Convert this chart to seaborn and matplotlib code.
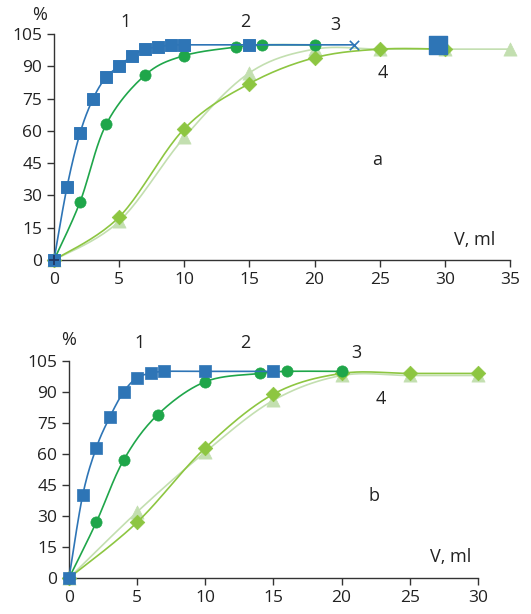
import numpy as np
import pandas as pd
import matplotlib
matplotlib.use("Agg")
import matplotlib.pyplot as plt
import seaborn as sns

# ---- data ----
# panel a
a1_x = [0, 1, 2, 3, 4, 5, 6, 7, 8, 9, 10, 15]
a1_y = [0, 34, 59, 75, 85, 90, 95, 98, 99, 100, 100, 100]
a1_end_x = [23]
a1_end_y = [100]
a_stray_x = [29.5]
a_stray_y = [100]
a2_x = [0, 2, 4, 7, 10, 14, 16, 20]
a2_y = [0, 27, 63, 86, 95, 99, 100, 100]
a3_x = [0, 5, 10, 15, 20, 25, 30, 35]
a3_y = [0, 18, 57, 87, 98, 98, 98, 98]
a4_x = [0, 5, 10, 15, 20, 25, 30]
a4_y = [0, 20, 61, 82, 94, 98, 98]

# panel b
b1_x = [0, 1, 2, 3, 4, 5, 6, 7, 10, 15]
b1_y = [0, 40, 63, 78, 90, 97, 99, 100, 100, 100]
b2_x = [0, 2, 4, 6.5, 10, 14, 16, 20]
b2_y = [0, 27, 57, 79, 95, 99, 100, 100]
b3_x = [0, 5, 10, 15, 20, 25, 30]
b3_y = [0, 32, 61, 86, 98, 98, 98]
b4_x = [0, 5, 10, 15, 20, 25, 30]
b4_y = [0, 27, 63, 89, 99, 99, 99]

y_ticks = [0, 15, 30, 45, 60, 75, 90, 105]

BLUE = "#2E75B6"
GREEN = "#1FA64A"
LIME = "#8DC641"
PALE = "#C3DFB0"

sns.set_style("white")
plt.rcParams["font.family"] = ["Open Sans", "DejaVu Sans"]


def smooth(x, y, n=24):
    # Excel-style smoothed line (Catmull-Rom through the points)
    p = np.column_stack([x, y]).astype(float)
    pts = np.vstack([p[0], p, p[-1]])
    out = []
    t = np.linspace(0, 1, n)[:, None]
    for i in range(1, len(pts) - 2):
        p0, p1, p2, p3 = pts[i - 1], pts[i], pts[i + 1], pts[i + 2]
        c1 = p1 + (p2 - p0) / 6
        c2 = p2 - (p3 - p1) / 6
        seg = ((1 - t) ** 3) * p1 + 3 * ((1 - t) ** 2) * t * c1 + 3 * (1 - t) * t ** 2 * c2 + t ** 3 * p2
        out.append(seg)
    s = np.vstack(out)
    return pd.DataFrame({"x": s[:, 0], "y": s[:, 1]})


def series(ax, x, y, color, marker, ms, lw=1.2, z=2):
    d = smooth(x, y)
    sns.lineplot(data=d, x="x", y="y", sort=False, estimator=None, color=color,
                 linewidth=lw, ax=ax, zorder=z)
    if marker is not None:
        sns.scatterplot(x=x, y=y, marker=marker, s=ms, color=color, edgecolor=color,
                        linewidth=0.5, ax=ax, zorder=z + 0.5, clip_on=False)


def style_axes(ax, xmax, xstep):
    ax.set_xlim(0, xmax)
    ax.set_ylim(0, 105)
    ax.set_xticks(np.arange(0, xmax + 1, xstep))
    ax.set_yticks(y_ticks)
    for s in ["top", "right"]:
        ax.spines[s].set_visible(False)
    for s in ["left", "bottom"]:
        ax.spines[s].set_color("#333333")
        ax.spines[s].set_linewidth(1.0)
    ax.tick_params(axis="both", direction="out", length=5, width=1.0, color="#333333",
                   labelsize=12.5, labelcolor="#222222", bottom=True, left=True, pad=3.5)
    ax.set_xlabel("")
    ax.set_ylabel("")


fig = plt.figure(figsize=(5.31, 6.14), dpi=100)

# ---- panel a ----
ax1 = fig.add_axes([0.1017, 0.5765, 0.8588, 0.368])
series(ax1, a3_x, a3_y, PALE, "^", 90, z=2)
series(ax1, a4_x, a4_y, LIME, "D", 55, z=3)
series(ax1, a2_x, a2_y, GREEN, "o", 65, z=4)
series(ax1, a1_x + a1_end_x, a1_y + a1_end_y, BLUE, None, 0, z=5)
sns.scatterplot(x=a1_x, y=a1_y, marker="s", s=70, color=BLUE, edgecolor=BLUE,
                ax=ax1, zorder=6, clip_on=False)
sns.scatterplot(x=a1_end_x, y=a1_end_y, marker="x", s=45, color=BLUE,
                linewidth=1.2, ax=ax1, zorder=6)
sns.scatterplot(x=a_stray_x, y=a_stray_y, marker="s", s=160, color=BLUE,
                edgecolor=BLUE, ax=ax1, zorder=6)
sns.scatterplot(x=[0], y=[0], marker="+", s=50, color="#1F3864",
                linewidth=1.3, ax=ax1, zorder=7, clip_on=False)
style_axes(ax1, 35, 5)

tk = dict(fontsize=13, color="#222222", ha="center", va="center")
ax1.text(-1.07, 113.8, "%", clip_on=False, **tk)
ax1.text(5.5, 110.6, "1", clip_on=False, **tk)
ax1.text(14.7, 110.6, "2", clip_on=False, **tk)
ax1.text(21.6, 109.2, "3", clip_on=False, **tk)
ax1.text(25.2, 86.9, "4", **tk)
ax1.text(24.8, 46.5, "a", **tk)
ax1.text(32.3, 9.3, "V, ml", **tk)

# ---- panel b ----
ax2 = fig.add_axes([0.130, 0.0586, 0.770, 0.3534])
series(ax2, b3_x, b3_y, PALE, "^", 90, z=2)
series(ax2, b4_x, b4_y, LIME, "D", 55, z=3)
series(ax2, b2_x, b2_y, GREEN, "o", 65, z=4)
series(ax2, b1_x, b1_y, BLUE, "s", 70, z=5)
style_axes(ax2, 30, 5)

ax2.text(0, 115, "%", clip_on=False, **tk)
ax2.text(5.2, 113.7, "1", clip_on=False, **tk)
ax2.text(12.9, 113.7, "2", clip_on=False, **tk)
ax2.text(21.1, 108.9, "3", clip_on=False, **tk)
ax2.text(22.9, 86.6, "4", **tk)
ax2.text(22.4, 39.7, "b", **tk)
ax2.text(28.0, 10.2, "V, ml", **tk)

fig.savefig("out.png", dpi=100)
